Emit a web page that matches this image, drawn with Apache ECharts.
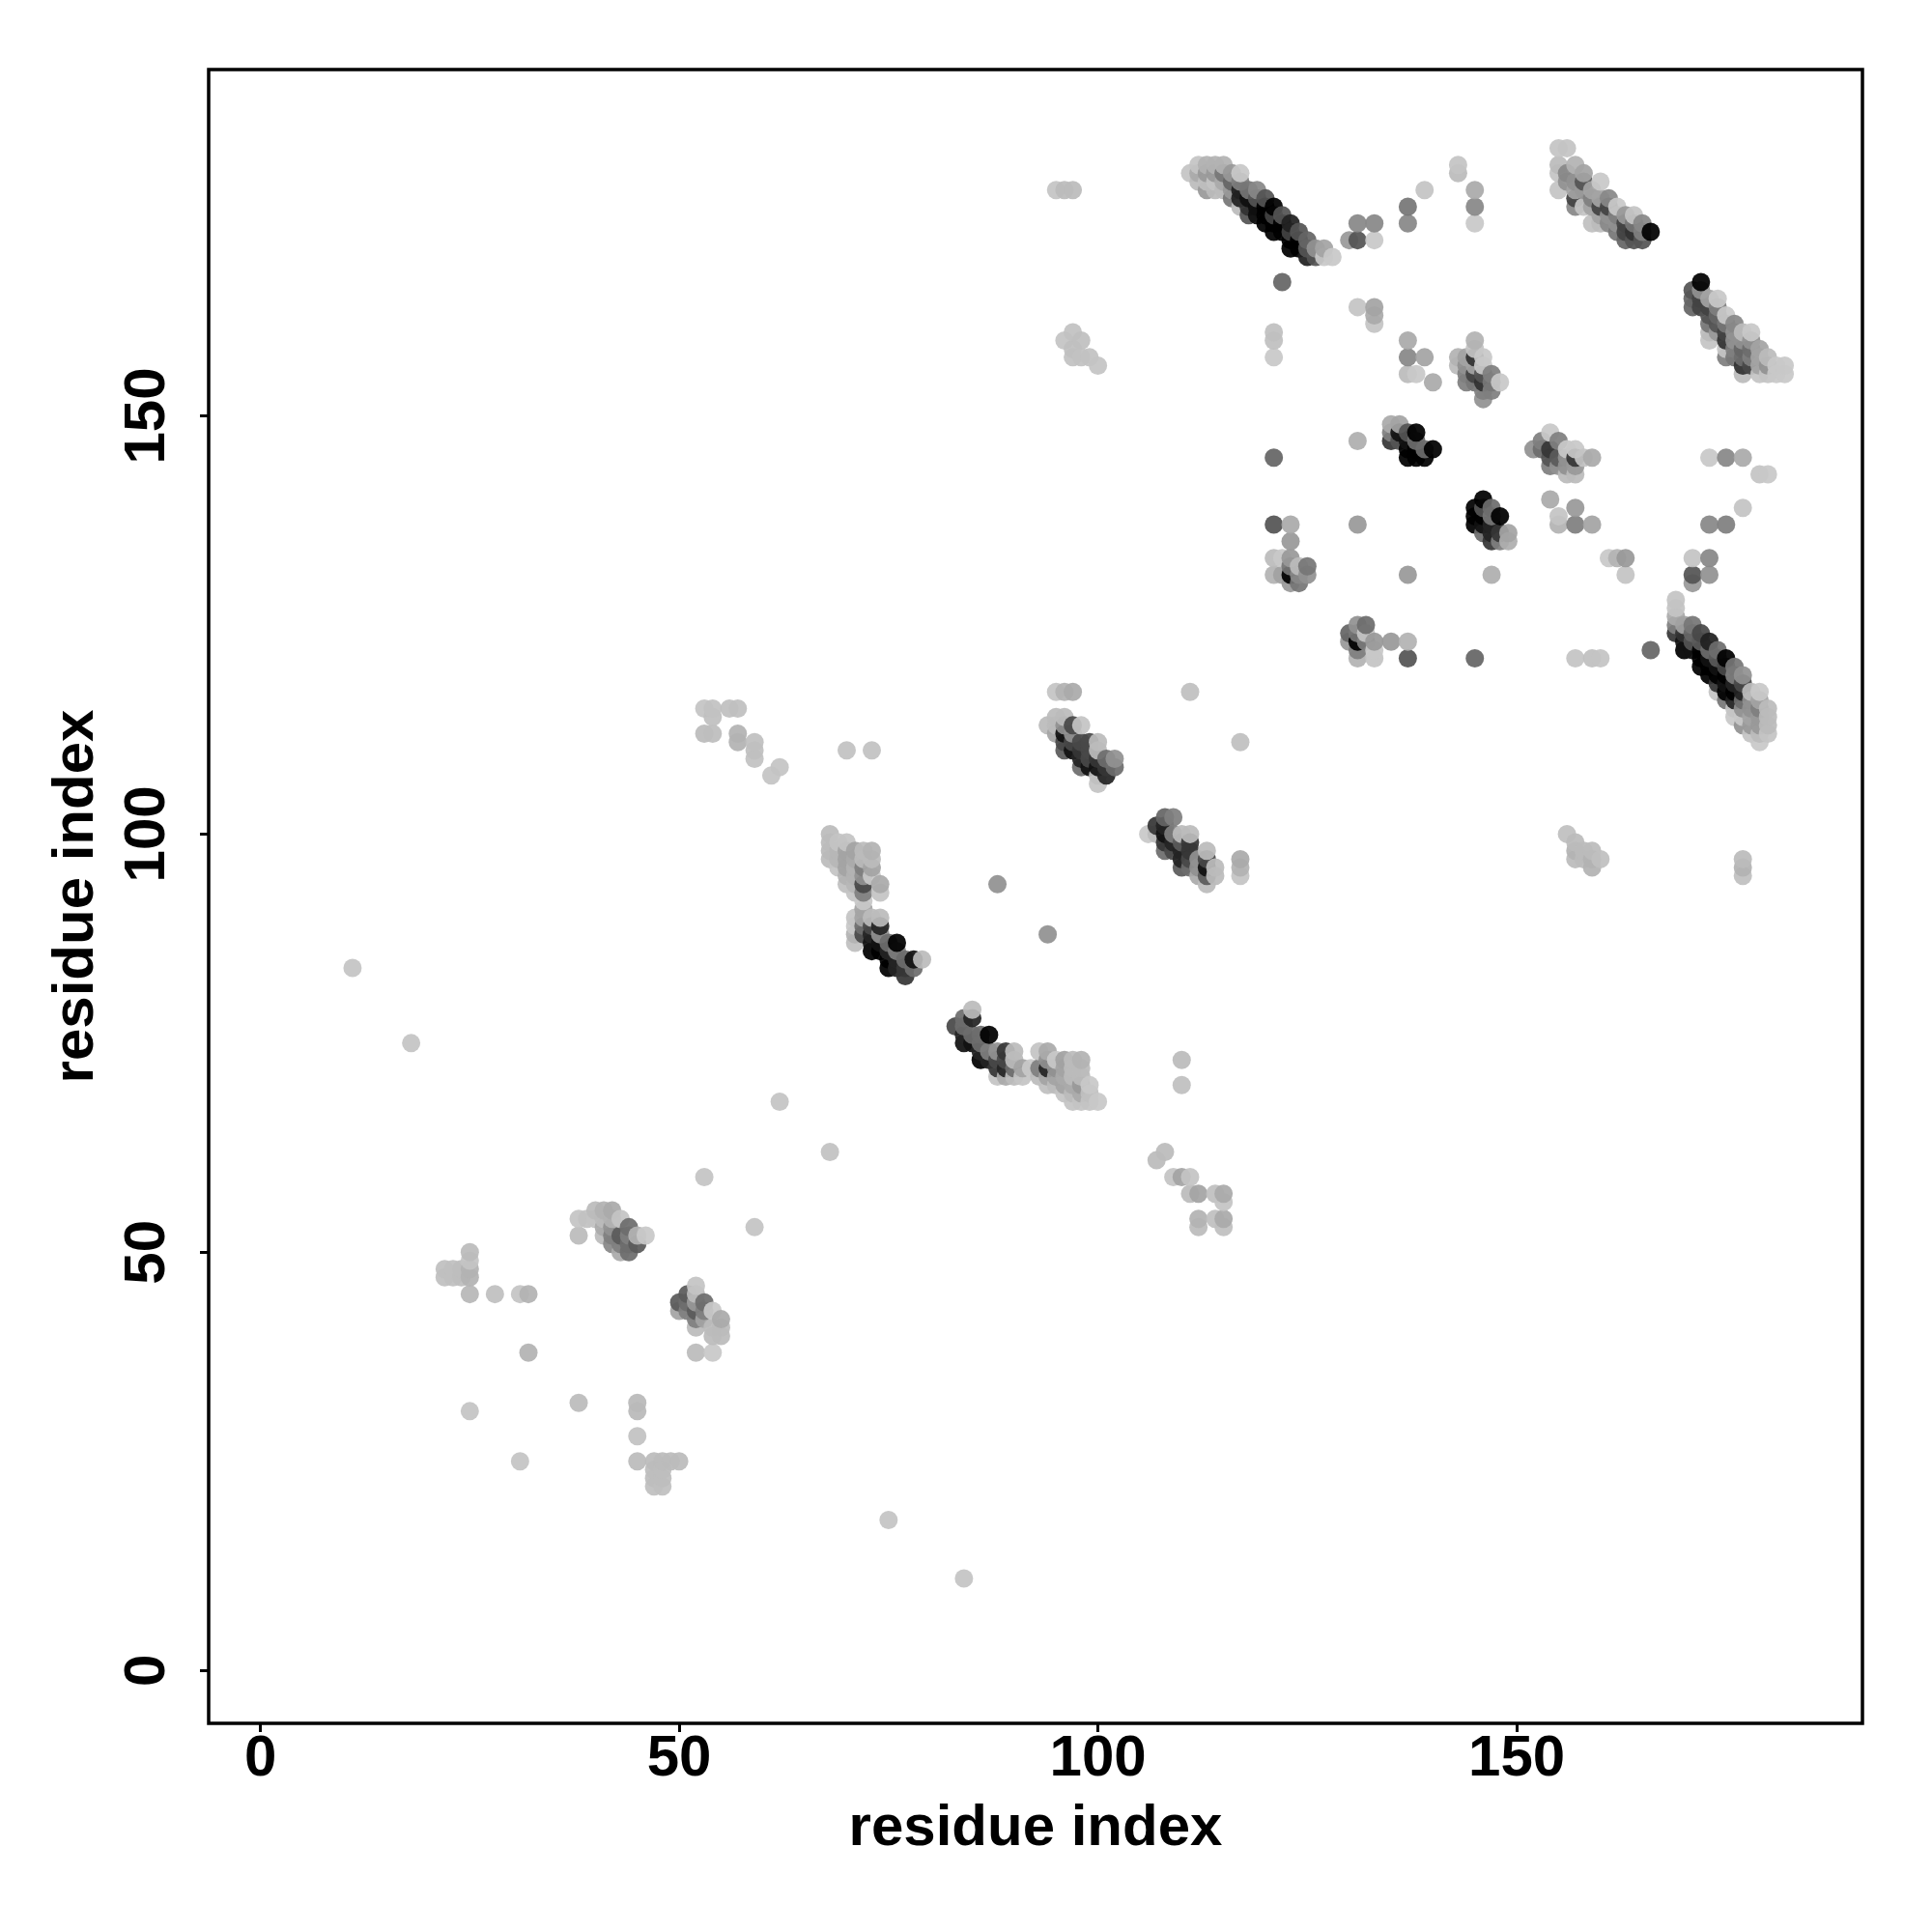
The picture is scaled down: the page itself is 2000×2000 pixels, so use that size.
<!DOCTYPE html>
<html>
<head>
<meta charset="utf-8">
<style>html,body{margin:0;padding:0;background:#fff}#c{width:2000px;height:2000px}</style>
<script src="https://cdn.jsdelivr.net/npm/echarts@6/dist/echarts.min.js"></script>
</head>
<body>
<div id="c"></div>
<script>
// each contact: [residue i, residue j, contact score 0..204]
const tickValues = [0, 50, 100, 150];
const axisTitle = "residue index";

const sparse = [[11,84,4],[18,75,4],[25,31,4],[31,25,4],[38,32,12],[32,38,20],[45,32,14],[45,31,14],[45,28,6],[45,25,12],
[47,25,12],[48,25,12],[49,25,12],[50,25,12],[47,24,10],[48,24,10],[47,23,10],[48,23,10],[47,22,8],[48,22,8],
[75,18,4],[84,11,4],[53,59,4],[59,53,4],[62,68,4],[68,62,6],[88,94,51],[94,88,51],[70,110,6],[73,110,6],
[95,177,4],[96,177,12],[97,177,12],[96,159,4],[97,160,6],[97,158,8],[97,157,6],[98,159,8],[98,157,6],[99,157,6],[100,156,4],
[111,117,8],[117,111,8],[122,166,92],[121,145,92],[131,147,24],[131,137,44],[137,131,44],[147,131,24],[166,122,92],[145,121,92],
[121,137,108],[157,121,4],[159,121,8],[160,121,4],[110,73,12],[110,70,8]];
const cornerUpper = [[53,115,4],[54,115,6],[56,115,8],[57,115,8],[54,114,8],[53,112,12],[54,112,10],[57,112,20],[57,111,20],
[59,111,8],[59,110,8],[59,109,6],[61,107,4],[62,108,4]];
const lowBlockA = [[22,48,8],[22,47,8],[23,48,8],[23,47,8],[24,48,10],[24,47,10],[25,50,12],[25,49,4],[25,48,20],[25,47,20],
[25,45,16],[28,45,8],[31,45,4],[32,45,20]];
const lowBlockB = [[38,54,4],[38,52,12],[39,54,6],[40,55,12],[40,54,4],[41,55,20],[41,54,12],[41,53,28],[41,52,12],
[42,55,28],[42,54,20],[42,53,51],[42,52,68],[42,51,60],[43,54,4],[43,52,102],[43,51,68],[43,50,28],
[44,53,85],[44,52,68],[44,51,85],[44,50,85],[45,52,20],[45,51,102],[46,52,0]];
const lowBlockC = [[50,44,102],[50,43,34],[51,45,102],[51,44,85],[51,43,68],[52,46,4],[52,45,12],[52,44,44],[52,43,102],[52,42,68],[52,41,12],[52,38,12],
[53,44,85],[53,43,68],[53,42,34],[54,43,0],[54,41,12],[54,40,12],[54,38,0],[55,42,28],[55,41,12],[55,40,12]];
const bandLeft = [[68,100,12],[68,99,12],[68,98,14],[68,97,12],[69,99,4],[69,98,16],[69,97,16],[69,96,4],
[70,99,4],[70,98,34],[70,97,34],[70,96,34],[70,95,20],[70,94,8],
[71,98,34],[71,97,28],[71,96,20],[71,95,20],[71,94,16],[71,93,4],[71,90,4],[71,89,0],[71,88,20],[71,87,8],
[72,98,12],[72,97,12],[72,96,68],[72,95,51],[72,94,119],[72,93,68],[72,92,0],[72,91,34],[72,90,34],[72,89,85],[72,88,119],
[73,98,20],[73,97,12],[73,96,34],[73,95,0],[73,90,12],[73,89,119],[73,88,153],[73,87,170],[73,86,187],
[74,94,28],[74,93,4],[74,90,12],[74,89,153],[74,88,51],[74,87,170],[74,86,187],
[75,87,85],[75,86,153],[75,85,187],[75,84,187],[76,87,187],[76,86,68],[76,85,153],[76,84,153],
[77,85,85],[77,84,136],[77,83,136],[78,85,170],[78,84,85],[79,85,12]];
const bandMid = [[83,77,119],[84,78,85],[84,77,85],[84,76,153],[84,75,170],[85,79,12],[85,78,153],[85,76,85],[85,75,170],
[86,76,85],[86,75,85],[86,74,153],[86,73,187],[87,76,187],[87,74,68],[87,73,153],
[88,74,51],[88,73,119],[88,72,136],[88,71,4],[89,74,136],[89,73,119],[89,72,153],[89,71,28],
[90,74,12],[90,73,12],[90,72,85],[90,71,12],[91,72,34],[91,71,4],[92,72,0],
[93,74,4],[93,72,68],[93,71,12],[94,74,28],[94,73,51],[94,72,153],[94,71,34],[94,70,8],
[95,73,0],[95,72,51],[95,71,34],[95,70,12],[96,73,36],[96,72,34],[96,71,28],[96,70,34],[96,69,4],
[97,73,12],[97,72,12],[97,71,12],[97,70,28],[97,69,12],[97,68,4],[98,73,20],[98,72,12],[98,71,12],[98,70,44],[98,69,28],[98,68,4],
[99,70,0],[99,69,8],[99,68,4],[100,68,0]];
const blockA = [[107,61,12],[108,62,12],[109,59,4],[110,59,34],[111,59,4],[111,57,12],[112,57,34],[114,57,8],[115,57,28],[115,56,4],
[112,54,20],[112,53,12],[114,54,8],[115,54,28],[115,53,8]];
const blockB = [[94,113,12],[95,117,4],[95,114,12],[95,113,12],[95,112,34],[96,117,20],[96,114,12],[96,113,51],[96,112,170],[96,111,119],[96,110,102],
[97,117,28],[97,113,119],[97,112,51],[97,111,119],[97,110,170],[98,113,4],[98,111,119],[98,110,136],[98,109,153],[98,108,85],
[99,111,119],[99,110,119],[99,109,119],[99,108,170],[100,111,12],[100,110,12],[100,109,136],[100,108,170],[100,107,8],[100,106,4],
[101,109,85],[101,108,136],[101,107,153],[102,109,51],[102,108,85]];
const blockC = [[106,100,0],[107,101,136],[107,100,12],[108,102,92],[108,101,153],[108,100,170],[108,99,136],[108,98,85],
[109,102,68],[109,100,68],[109,99,153],[109,98,119],[110,100,12],[110,99,102],[110,98,153],[110,97,153],[110,96,102],
[111,100,12],[111,99,136],[111,98,136],[111,97,119],[111,96,85],[112,97,51],[112,96,51],[112,95,28],
[113,98,12],[113,97,119],[113,96,170],[113,95,102],[113,94,12],[114,96,12],[114,95,12],[117,97,28],[117,96,20],[117,95,4]];
const strandA = [[111,179,4],[112,180,4],[112,179,28],[112,178,12],[113,180,20],[113,179,44],[113,178,8],[113,177,44],
[114,180,20],[114,179,44],[114,178,4],[114,177,12],[115,180,20],[115,179,76],[115,178,28],[115,177,12],
[116,179,44],[116,178,92],[116,177,44],[116,176,76],[117,179,0],[117,178,68],[117,177,156],[117,176,156],[117,175,12],
[118,177,76],[118,176,172],[118,175,140],[118,174,108],[119,177,60],[119,176,108],[119,175,172],[119,174,172],
[120,176,108],[120,175,188],[120,174,188],[120,173,188],[121,175,204],[121,174,124],[121,173,204],[121,172,204],
[122,174,108],[122,173,188],[122,172,204],[123,173,156],[123,172,124],[123,171,188],[123,170,204],
[124,172,108],[124,171,188],[124,170,204],[125,171,92],[125,170,108],[125,169,156],[126,170,51],[126,169,108],[127,170,34],[127,169,0],[128,169,0]];
const strandATail = [[131,173,60],[133,173,60],[130,171,44],[131,171,108],[133,171,0],[137,175,76],[137,173,60],[139,177,4],
[143,180,4],[143,179,12],[131,163,4],[133,163,34],[133,162,28],[133,161,4],[121,160,8],[121,159,8],[121,157,0],
[137,159,28],[137,157,60],[139,157,34],[137,155,12],[138,155,0],[140,154,28],[145,177,28],[145,175,60],[145,173,0]];
const strandB = [[155,182,4],[156,182,4],[155,180,12],[155,179,4],[155,177,4],[156,179,60],[156,178,51],
[157,180,20],[157,178,51],[157,177,34],[157,176,124],[157,175,60],[158,179,34],[158,178,108],[158,177,44],[158,175,4],
[159,177,34],[159,176,68],[159,175,34],[159,173,8],[160,178,0],[160,176,34],[160,175,124],[160,174,34],[160,173,12],
[161,176,60],[161,175,124],[161,174,51],[161,173,60],[162,175,0],[162,174,68],[162,173,51],[162,172,76],
[163,174,44],[163,173,124],[163,172,124],[163,171,92],[164,174,4],[164,173,76],[164,172,140],[164,171,108],
[165,173,60],[165,172,68],[165,171,108],[166,172,188]];
const strandC = [[171,165,108],[171,164,92],[171,163,92],[172,166,188],[172,165,51],[172,164,124],[172,163,124],
[173,164,34],[173,163,124],[173,162,108],[173,161,76],[173,160,12],[173,159,4],[174,164,0],[174,163,68],[174,162,92],[174,161,108],[174,160,44],
[175,162,0],[175,161,76],[175,160,124],[175,159,140],[175,158,4],[175,157,68],[176,161,60],[176,160,51],[176,159,51],[176,158,68],[176,157,76],
[177,160,12],[177,159,51],[177,158,92],[177,157,85],[177,156,140],[177,155,12],[178,160,0],[178,159,51],[178,158,85],[178,157,68],[178,156,119],
[179,158,34],[179,157,34],[179,156,34],[179,155,4],[180,157,12],[180,156,51],[180,155,4],[181,156,0],[181,155,0],[182,156,0],[182,155,0]];
const blockD = [[143,157,20],[143,156,12],[144,157,34],[144,156,51],[144,155,68],[144,154,68],[145,159,20],[145,158,4],[145,157,140],[145,156,34],[145,155,124],[145,154,76],
[146,157,0],[146,156,0],[146,155,108],[146,154,140],[146,153,68],[146,152,51],[147,155,68],[147,154,76],[147,153,68],[148,154,0]];
const blackA = [[135,149,28],[135,148,68],[135,147,136],[136,149,34],[136,148,170],[136,147,108],[137,148,108],[137,147,170],[137,146,187],[137,145,204],
[138,148,188],[138,147,85],[138,146,187],[138,145,204],[139,146,85],[139,145,204],[140,146,188]];
const blackB = [[145,139,204],[145,138,204],[145,137,204],[146,140,188],[146,139,108],[146,138,187],[146,137,170],[146,136,85],
[147,139,85],[147,138,76],[147,137,153],[147,136,153],[147,135,136],[148,138,188],[148,136,136],[148,135,68],[149,136,34],[149,135,24]];
const blockE = [[152,146,51],[153,147,68],[153,146,85],[154,148,0],[154,146,136],[154,145,108],[154,144,68],[155,147,68],[155,145,102],[155,144,51],
[156,146,0],[156,145,51],[156,144,51],[156,143,12],[157,146,0],[157,145,136],[157,144,44],[157,143,12],[158,145,4],[159,145,28]];
const blockF = [[154,140,28],[157,139,44],[155,138,4],[155,137,20],[157,137,68],[159,137,34],[173,145,0],[175,145,60],[177,145,28],
[179,143,4],[180,143,0],[177,139,4],[173,137,60],[175,137,68],[161,133,0],[162,133,20],[163,133,44],[163,131,4],
[171,133,4],[173,133,60],[171,131,108],[173,131,51],[171,130,44]];
const blockG = [[121,133,12],[122,133,0],[123,137,28],[123,135,44],[123,133,44],[123,132,76],[123,131,187],[123,130,44],
[121,131,20],[122,131,36],[124,132,12],[124,131,60],[124,130,76],[125,132,76],[125,131,51]];
const blockH = [[130,124,92],[130,123,44],[131,125,51],[131,124,76],[131,123,187],[131,122,68],[131,121,20],
[132,125,85],[132,124,4],[132,123,68],[133,123,44],[133,122,0],[133,121,4],[135,123,44],[137,123,20],[137,121,108]];
const strandD = [[169,128,4],[169,127,4],[169,126,28],[169,125,68],[169,124,136],[170,125,36],[170,124,140],[170,123,170],[170,122,204],
[171,125,76],[171,124,92],[171,123,108],[171,122,170],[172,124,119],[172,123,102],[172,122,187],[172,121,187],[172,120,204],
[173,123,156],[173,122,85],[173,121,170],[173,120,204],[173,119,187],[174,122,85],[174,121,102],[174,120,170],[174,119,187],[174,118,136],[174,117,4],
[175,121,204],[175,120,119],[175,119,187],[175,118,170],[175,117,187],[175,116,76],[176,120,76],[176,119,68],[176,118,153],[176,117,204],[176,116,153],[176,115,4],[176,114,0],
[177,119,51],[177,118,119],[177,117,153],[177,116,85],[177,115,51],[177,114,0],[177,113,51],
[178,117,12],[178,116,51],[178,115,51],[178,114,34],[178,113,44],[178,112,4],[179,117,0],[179,116,34],[179,115,68],[179,114,44],[179,113,44],[179,112,12],[179,111,0],
[180,115,12],[180,114,12],[180,113,12],[180,112,4]];
const blockI = [[156,100,8],[157,99,12],[157,98,20],[157,97,12],[158,98,12],[158,97,12],[159,98,12],[159,97,20],[159,96,20],[160,97,8],
[177,97,12],[177,96,20],[177,95,8]];

const contactGroups = [sparse, cornerUpper, lowBlockA, lowBlockB, lowBlockC, bandLeft, bandMid, blockA, blockB, blockC,
  strandA, strandATail, strandB, strandC, blockD, blackA, blackB, blockE, blockF, blockG, blockH, strandD, blockI];

// drawn in residue order so that later contacts lie on top
const contacts = contactGroups.flat().sort((a, b) => a[0] - b[0] || a[1] - b[1]);

const MARK_ALPHA = 0.93;
function shade(score) {
  const shown = 204 - score;
  const g = Math.max(0, Math.round(255 - (255 - shown) / MARK_ALPHA));
  return `rgb(${g},${g},${g})`;
}

const font = { fontFamily: "Liberation Sans", fontWeight: "bold", fontSize: 60, color: "#000" };
const chart = echarts.init(document.getElementById("c"), null, { renderer: "canvas" });
function axis(extra) {
  return Object.assign({
    type: "value",
    name: axisTitle,
    nameLocation: "middle",
    nameTextStyle: font,
    splitLine: { show: false },
    axisLine: { show: false, onZero: false },
    axisTick: { show: true, length: 9, customValues: tickValues, lineStyle: { color: "#000", width: 3 } },
    axisLabel: Object.assign({ customValues: tickValues }, font)
  }, extra);
}
const xAxis = axis({ min: -6.18, max: 191.28, nameGap: 79 });
xAxis.axisLabel.margin = 7;
const yAxis = axis({ min: -6.32, max: 191.4, nameGap: 107 });
yAxis.axisLabel.rotate = 90;
yAxis.axisLabel.margin = 33;

chart.setOption({
  animation: false,
  backgroundColor: "#fff",
  grid: { left: 216, top: 72, width: 1712, height: 1712, show: true, borderColor: "#000", borderWidth: 3.5, backgroundColor: "transparent" },
  xAxis,
  yAxis,
  series: [{
    type: "scatter",
    data: contacts,
    symbol: "circle",
    symbolSize: 19,
    large: false,
    clip: true,
    itemStyle: { opacity: MARK_ALPHA, color: p => shade(p.value[2]) }
  }]
});
</script>
</body>
</html>
